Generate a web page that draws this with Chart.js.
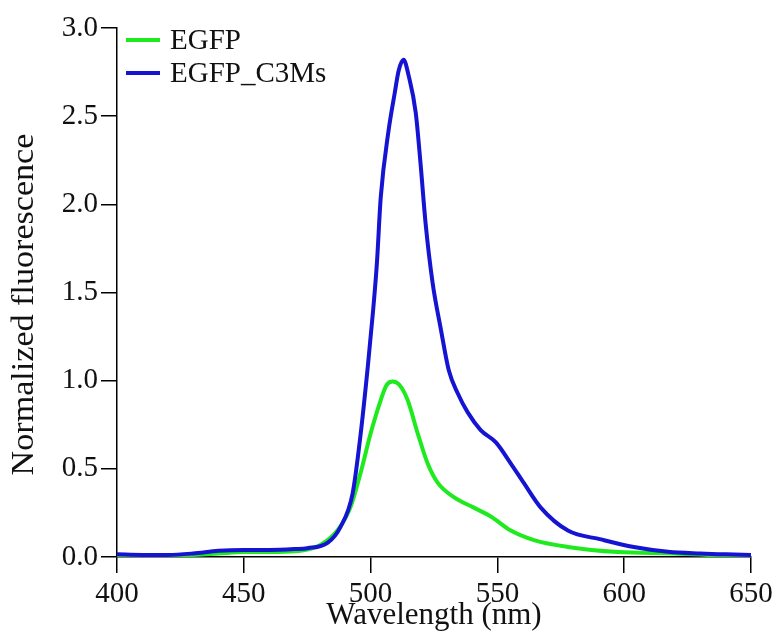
<html>
  <head>
    <title>EGFP fluorescence</title>
    <script src="https://cdn.jsdelivr.net/npm/chart.js@4.4.1/dist/chart.umd.min.js"></script>
    <style>
      body {
        margin: 0;
        background-color: #fff;
      }
      #wrap {
        width: 779px;
        height: 636px;
      }
    </style>
  </head>
  <body>
    <div id="wrap">
      <canvas id="spectra" width="779" height="636"></canvas>
    </div>
  </body>

  <script>
    // values (wavelength in nm, normalized fluorescence)
    var egfpWl = [400, 410, 420, 430, 440, 450, 460, 470, 475, 480.2, 486.9, 492, 496.1, 500, 504, 506.3, 508.7, 511.4, 514.6, 518.6, 522.5, 526.5, 532.8, 540.7, 547.4, 555.3, 564.4, 577.8, 597.6, 620, 635, 650];
    var egfpVal = [0.0, 0.003, 0.005, 0.012, 0.02, 0.028, 0.028, 0.032, 0.042, 0.068, 0.15, 0.28, 0.48, 0.70, 0.89, 0.975, 0.995, 0.975, 0.89, 0.70, 0.53, 0.42, 0.34, 0.28, 0.23, 0.15, 0.096, 0.057, 0.028, 0.02, 0.01, 0.005];

    var c3msWl = [400, 410, 420, 430, 440, 450, 460, 470, 475, 483, 488.1, 492.9, 496.1, 498.9, 501, 502.5, 504, 507.1, 509.5, 511.1, 513, 515, 517.8, 519.7, 521.7, 524.5, 527.6, 530.8, 534.3, 538.3, 543.4, 549.4, 555.3, 560.4, 567.1, 577.8, 590.8, 603.8, 617.3, 630, 640, 650];
    var c3msVal = [0.015, 0.012, 0.012, 0.02, 0.035, 0.04, 0.04, 0.045, 0.05, 0.08, 0.17, 0.36, 0.70, 1.08, 1.40, 1.67, 2.04, 2.42, 2.63, 2.76, 2.82, 2.73, 2.52, 2.23, 1.89, 1.55, 1.30, 1.06, 0.93, 0.82, 0.72, 0.65, 0.53, 0.42, 0.28, 0.15, 0.10, 0.057, 0.03, 0.02, 0.015, 0.012];

    var seriesNames = ["EGFP", "EGFP_C3Ms"];
    var seriesColors = ["#1eea1e", "#1414d2"];

    var xTicks = [400, 450, 500, 550, 600, 650];
    var yTicks = [0, 0.5, 1.0, 1.5, 2.0, 2.5, 3.0];
    var yTitle = "Normalized fluorescence";

    function points(wl, val) {
      var out = [];
      for (var i = 0; i < wl.length; i++) {
        out.push({x: wl[i], y: val[i]});
      }
      return out;
    }

    // legend inside the plot (top-left) + the y title, which sits a bit below centre
    var extras = {
      id: 'extras',
      afterDraw: function(chart) {
        var ctx = chart.ctx;
        var area = chart.chartArea;
        ctx.save();
        ctx.font = '29px "Liberation Serif"';
        ctx.textBaseline = 'middle';
        chart.data.datasets.forEach(function(ds, i) {
          var y = area.top + 12 + i * 33;
          ctx.strokeStyle = ds.borderColor;
          ctx.lineWidth = 4;
          ctx.beginPath();
          ctx.moveTo(area.left + 9, y);
          ctx.lineTo(area.left + 43, y);
          ctx.stroke();
          ctx.fillStyle = '#111';
          ctx.fillText(ds.label, area.left + 53, y + 1);
        });
        ctx.restore();

        ctx.save();
        ctx.translate(25, (area.top + area.bottom) / 2 + 12);
        ctx.rotate(-Math.PI / 2);
        ctx.scale(1.1, 1);
        ctx.font = '31px "Liberation Serif"';
        ctx.textAlign = 'center';
        ctx.textBaseline = 'middle';
        ctx.fillStyle = '#111';
        ctx.fillText(yTitle, 0, 0);
        ctx.restore();
      }
    };

    var axisFont = {family: '"Liberation Serif"', size: 29};
    var titleFont = {family: '"Liberation Serif"', size: 31};

    new Chart(document.getElementById('spectra'), {
      type: 'line',
      data: {
        datasets: [
          {
            label: seriesNames[0],
            data: points(egfpWl, egfpVal),
            borderColor: seriesColors[0],
            borderWidth: 4,
            pointRadius: 0,
            cubicInterpolationMode: 'monotone',
            order: 1
          },
          {
            label: seriesNames[1],
            data: points(c3msWl, c3msVal),
            borderColor: seriesColors[1],
            borderWidth: 4,
            pointRadius: 0,
            cubicInterpolationMode: 'monotone',
            order: 0
          }
        ]
      },
      options: {
        responsive: false,
        animation: false,
        layout: {padding: {top: 28, right: 28, left: 0, bottom: 0}},
        plugins: {
          legend: {display: false},
          tooltip: {enabled: false}
        },
        scales: {
          x: {
            type: 'linear',
            min: 400,
            max: 650,
            afterBuildTicks: function(scale) {
              scale.ticks = xTicks.map(function(v) { return {value: v}; });
            },
            afterFit: function(scale) { scale.height = 79; },
            grid: {drawOnChartArea: false, drawTicks: true, tickLength: 16, color: '#000', lineWidth: 1.5},
            border: {color: '#000', width: 1.5},
            ticks: {color: '#111', font: axisFont, padding: 4, maxRotation: 0},
            title: {display: true, text: 'Wavelength (nm)', color: '#111', font: titleFont, padding: {top: 0, bottom: 2}}
          },
          y: {
            min: 0,
            max: 3,
            afterBuildTicks: function(scale) {
              scale.ticks = yTicks.map(function(v) { return {value: v}; });
            },
            afterFit: function(scale) { scale.width = 117; },
            grid: {drawOnChartArea: false, drawTicks: true, tickLength: 16, color: '#000', lineWidth: 1.5},
            border: {color: '#000', width: 1.5},
            ticks: {
              color: '#111',
              font: axisFont,
              padding: 3,
              callback: function(v) { return Number(v).toFixed(1); }
            },
            title: {display: false}
          }
        }
      },
      plugins: [extras]
    });
  </script>
</html>
